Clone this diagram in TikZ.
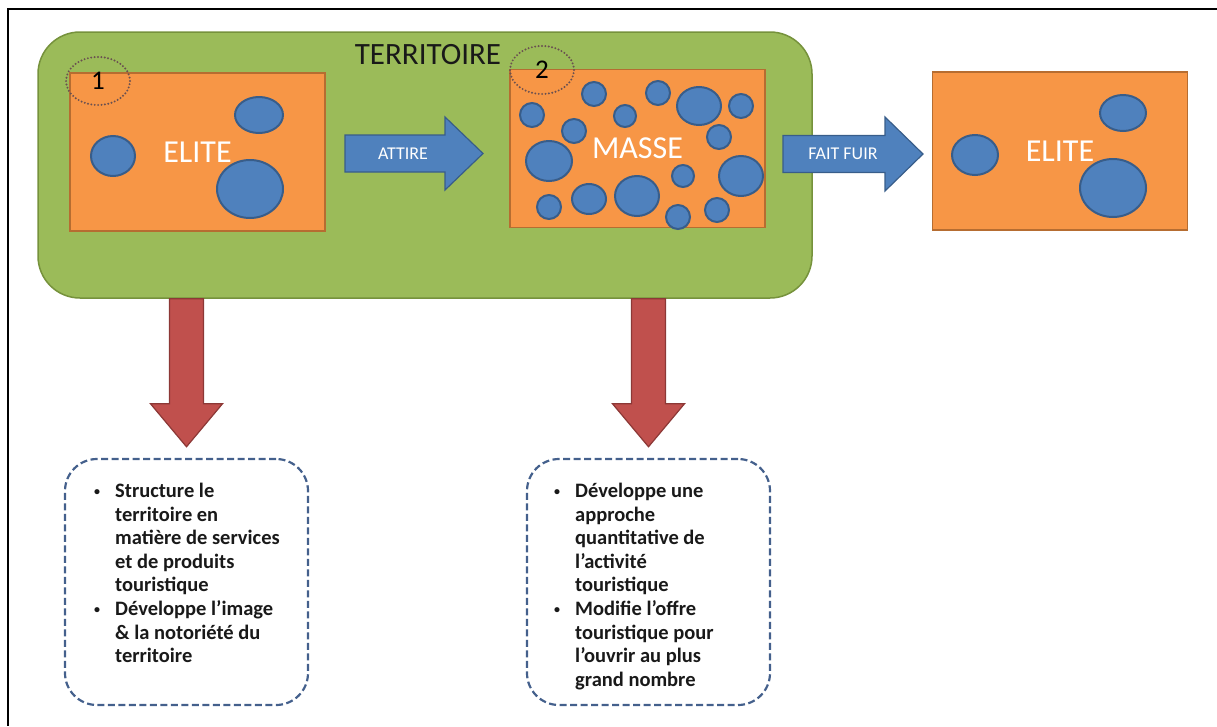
\documentclass[tikz,border=0pt]{standalone}
\usepackage{fontspec}
\setmainfont{Carlito}
\usepackage{xcolor}
\usepackage{tikz}
\usetikzlibrary{positioning,shapes.geometric,calc}
\definecolor{vertfond}{HTML}{9BBB59}
\definecolor{vertbord}{HTML}{76923C}
\definecolor{orangefond}{HTML}{F79646}
\definecolor{orangebord}{HTML}{B66D31}
\definecolor{bleufond}{HTML}{4F81BD}
\definecolor{bleubord}{HTML}{385D8A}
\definecolor{rougefond}{HTML}{C0504D}
\definecolor{rougebord}{HTML}{8C3836}
\definecolor{tirets}{HTML}{44608C}
\definecolor{pointilles}{HTML}{6A5050}
\newcommand{\puce}{\makebox[22pt][l]{\hspace{1pt}\raisebox{2.5pt}{\fontsize{12}{12}\selectfont\textbullet}}}
\newcommand{\suite}{\hspace*{22pt}}
\tikzset{
    territoire/.style={draw=vertbord, fill=vertfond, line width=1.5pt, rounded corners=42pt, minimum width=774, minimum height=266},
    groupe/.style={draw=orangebord, fill=orangefond, line width=1.5pt, minimum width=255, minimum height=158, text=white, font=\fontsize{32}{36}\selectfont},
    individu/.style={draw=bleubord, fill=bleufond, line width=2pt},
    bloc bleu/.style={draw=bleubord, fill=bleufond, line width=1.2pt},
    bloc rouge/.style={draw=rougebord, fill=rougefond, line width=1.2pt},
    etiquette/.style={text=white, font=\fontsize{18}{20}\selectfont},
    repere/.style={ellipse, draw=pointilles, line width=2.2pt, dash pattern=on 0pt off 3.4pt, line cap=round, minimum width=64, minimum height=48, inner sep=0pt, font=\fontsize{27}{30}\selectfont},
    cadre/.style={draw=tirets, line width=2.2pt, dash pattern=on 7pt off 3.5pt, rounded corners=32pt, minimum width=243, minimum height=246},
    liste/.style={align=left, inner sep=0pt, text=black!90, font=\fontsize{20.5}{23.6}\selectfont\bfseries},
}
\tikzstyle{every node}=[font=\fontsize{18}{20}\selectfont]

\begin{document}
\begin{tikzpicture}[x=1pt, y=-1pt]
    \useasboundingbox (0,0) rectangle (1217,726);
    \draw[line width=1.3pt] (1217,9) -- (8,9) -- (8,726);

    \node[territoire] (terr) at (425,165) {};
    \node[font=\fontsize{31}{34}\selectfont, text=black!90] (terr titre) at (428,55) {TERRITOIRE};

    \node[groupe] (elite1) at (197.5,152) {ELITE};
    \node[groupe] (masse) at (637.5,148.5) {MASSE};
    \node[groupe] (elite2) at (1060,151) {ELITE};

    % individus
    \draw[individu] (113,156) ellipse (22 and 20);
    \draw[individu] (259,115) ellipse (24 and 18);
    \draw[individu] (250,189) ellipse (33 and 29);

    \draw[individu] (532,115) ellipse (12 and 12);
    \draw[individu] (594,94) ellipse (12 and 12);
    \draw[individu] (658,93) ellipse (12 and 12);
    \draw[individu] (699,106) ellipse (22 and 19);
    \draw[individu] (741,106) ellipse (12 and 12);
    \draw[individu] (625,116) ellipse (11 and 11);
    \draw[individu] (574,131) ellipse (12 and 12);
    \draw[individu] (719,137) ellipse (12 and 12);
    \draw[individu] (549,161) ellipse (23 and 20);
    \draw[individu] (741,176) ellipse (22 and 20);
    \draw[individu] (683,176) ellipse (11 and 11);
    \draw[individu] (637,196) ellipse (22 and 20);
    \draw[individu] (589,199) ellipse (17 and 15);
    \draw[individu] (549,207) ellipse (12 and 12);
    \draw[individu] (678,217) ellipse (12 and 12);
    \draw[individu] (717,210) ellipse (12 and 12);

    \draw[individu] (975,155) ellipse (23 and 20);
    \draw[individu] (1123,113) ellipse (23 and 18);
    \draw[individu] (1113,188) ellipse (33 and 29);

    \node[repere] (rep1) at (98,81) {1};
    \node[repere] (rep2) at (542,70) {2};

    % fleches bleues
    \coordinate (attire depart) at (345,153.5);
    \draw[bloc bleu, shift={(attire depart)}] (0,-18.5) -- (100,-18.5) -- (100,-36.5) -- (138,0)
        -- (100,36.5) -- (100,18.5) -- (0,18.5) -- cycle;
    \node[etiquette] (attire) at ($(attire depart)+(58,0)$) {ATTIRE};

    \coordinate (fuir depart) at (783,154);
    \draw[bloc bleu, shift={(fuir depart)}] (0,-18.5) -- (102,-18.5) -- (102,-37) -- (140,0)
        -- (102,37) -- (102,18.5) -- (0,18.5) -- cycle;
    \node[etiquette] (fuir) at ($(fuir depart)+(60,0)$) {FAIT FUIR};

    % consequences
    \node[cadre] (cadre1) at (186.5,582) {};
    \node[cadre] (cadre2) at (648.5,582) {};

    \coordinate (vers1) at (cadre1.north |- terr.south);
    \coordinate (vers2) at (cadre2.north |- terr.south);
    \draw[bloc rouge, shift={(vers1)}] (-17,0) -- (-17,105) -- (-36,105) -- (0,148) -- (36,105) -- (17,105) -- (17,0) -- cycle;
    \draw[bloc rouge, shift={(vers2)}] (-17,0) -- (-17,105) -- (-36,105) -- (0,148) -- (36,105) -- (17,105) -- (17,0) -- cycle;

    \node[liste, anchor=north west] (liste1) at (93,483) {\puce Structure le\\ \suite territoire en\\
        \suite matière de services\\ \suite et de produits\\ \suite touristique\\
        \puce Développe l’image\\ \suite \& la notoriété du\\ \suite territoire};
    \node[liste, anchor=north west] (liste2) at (553,483) {\puce Développe une\\ \suite approche\\
        \suite quantitative de\\ \suite l’activité\\ \suite touristique\\
        \puce Modifie l’offre\\ \suite touristique pour\\ \suite l’ouvrir au plus\\ \suite grand nombre};
\end{tikzpicture}
\end{document}
